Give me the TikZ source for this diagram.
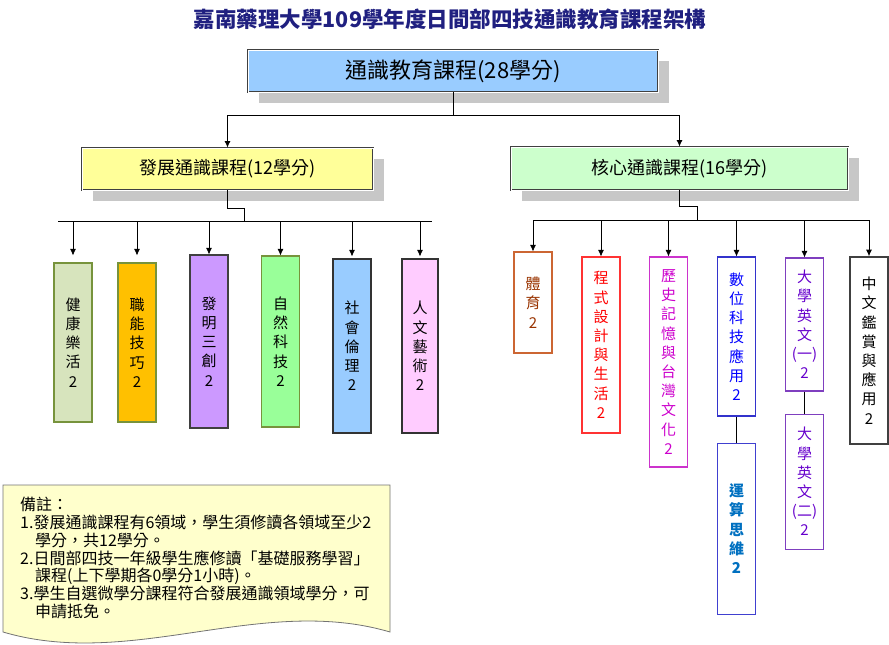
\documentclass[tikz,border=0pt]{standalone}
\usepackage{fontspec}
\setmainfont{Noto Sans CJK TC}
\usetikzlibrary{positioning,shadows,arrows.meta}

\definecolor{titlenavy}{RGB}{32,32,128}
\definecolor{genblue}{RGB}{153,204,255}
\definecolor{devyellow}{RGB}{255,255,153}
\definecolor{coregreen}{RGB}{204,255,204}
\definecolor{memofill}{RGB}{255,255,204}
\definecolor{olive}{RGB}{119,147,60}

\tikzset{
  head/.style={draw=black!75, line width=0.9pt, double=white, double distance=1pt,
    general shadow={fill=black!22, shadow xshift=11pt, shadow yshift=-11pt},
    inner sep=0pt, font=\fontsize{18}{22}\selectfont},
  area/.style={draw, line width=1.1pt, minimum width=38pt, inner sep=0pt,
    align=center, font=\fontsize{15}{19.2}\selectfont},
  link/.style={line width=0.8pt},
  drop/.style={link, -{Latex[length=6.5pt,width=6pt]}},
}

\begin{document}
\begin{tikzpicture}[x=1pt, y=-1pt]
        \useasboundingbox (0,0) rectangle (889,645);
        \node [font=\fontsize{21.5}{24}\selectfont\bfseries, text=titlenavy] (title) at (450,19)
          {嘉南藥理大學109學年度日間部四技通識教育課程架構};

        % top level
        \node [head, fill=genblue, minimum width=410pt, minimum height=42pt,
          font=\fontsize{22}{26}\selectfont] (gen) at (453,71) {通識教育課程(28學分)};
        \node [head, fill=devyellow, minimum width=291pt, minimum height=42pt] (dev) at (227.5,169)
          {發展通識課程(12學分)};
        \node [head, fill=coregreen, minimum width=337pt, minimum height=43pt] (core) at (679.5,168.5)
          {核心通識課程(16學分)};

        % developing areas
        \node [area, minimum height=159pt, fill={rgb,255:red,215;green,228;blue,189}, draw=olive] (hl) at (73,342.5)
          {健\\康\\樂\\活\\2};
        \node [area, minimum height=159pt, fill={rgb,255:red,255;green,192;blue,0}, draw=olive] (sk) at (137,342.5)
          {職\\能\\技\\巧\\2};
        \node [area, minimum height=173pt, fill={rgb,255:red,204;green,153;blue,255}, draw=black!75] (inv) at (209,341.5)
          {發\\明\\三\\創\\2};
        \node [area, minimum height=171pt, fill={rgb,255:red,153;green,255;blue,153}, draw=olive] (nat) at (280.5,341.5)
          {自\\然\\科\\技\\2};
        \node [area, minimum height=174pt, fill=genblue, draw=black!80] (soc) at (352,346)
          {社\\會\\倫\\理\\2};
        \node [area, minimum height=174pt, minimum width=36pt, fill={rgb,255:red,255;green,204;blue,255}, draw=black!80] (hum) at (420,346)
          {人\\文\\藝\\術\\2};

        % core courses
        \node [area, minimum height=101pt, draw={rgb,255:red,204;green,102;blue,51}, text={rgb,255:red,153;green,51;blue,0}] (pe) at (533,302.5)
          {體\\育\\2};
        \node [area, minimum height=176pt, draw={rgb,255:red,255;green,51;blue,51}, text=red] (prog) at (601,345)
          {程\\式\\設\\計\\與\\生\\活\\2};
        \node [area, minimum height=210pt, draw={rgb,255:red,204;green,51;blue,204}, text={rgb,255:red,204;green,0;blue,204}] (hist) at (668.5,362)
          {歷\\史\\記\\憶\\與\\台\\灣\\文\\化\\2};
        \node [area, minimum height=159pt, draw={rgb,255:red,51;green,51;blue,204}, text=blue] (dig) at (736.5,336.5)
          {數\\位\\科\\技\\應\\用\\2};
        \node [area, minimum height=171pt, below=26pt of dig, draw={rgb,255:red,64;green,64;blue,208},
          text={rgb,255:red,0;green,112;blue,192}, font=\fontsize{15}{19.2}\selectfont\bfseries] (ct)
          {運\\算\\思\\維\\2};
        \node [area, minimum height=133pt, draw={rgb,255:red,127;green,63;blue,191}, text={rgb,255:red,102;green,0;blue,204}] (eng1) at (804.5,324.5)
          {大\\學\\英\\文\\(一)\\2};
        \node [area, minimum height=135pt, below=22pt of eng1, draw={rgb,255:red,127;green,63;blue,191}, text={rgb,255:red,102;green,0;blue,204}] (eng2)
          {大\\學\\英\\文\\(二)\\2};
        \node [area, minimum height=187pt, line width=1.6pt, draw=black!75] (chn) at (869,350.5)
          {中\\文\\鑑\\賞\\與\\應\\用\\2};

        % connectors
        \draw [link] (gen.south) -- ++(0,23) coordinate (gb);
        \draw [drop] (gb) -| (dev.north);
        \draw [drop] (gb) -| (core.north);

        \draw [link] (dev.south) -- ++(0,18) -| ++(17,13) coordinate (db);
        \draw [link] (hl.north |- db) ++(-15,0) -- (hum.north |- db) -- ++(12,0);
        \foreach \n/\s in {hl/7,sk/7,inv/0,nat/0,soc/2,hum/2}
          \draw [drop, shorten >=\s pt] (\n.north |- db) -- (\n.north);

        \draw [link] (core.south) -- ++(0,16) -| ++(18,14) coordinate (cb);
        \draw [link] (pe.north |- cb) -- (chn.north |- cb);
        \foreach \n in {pe,prog,hist,dig,eng1,chn}
          \draw [drop] (\n.north |- cb) -- (\n.north);
        \draw [link] (dig) -- (ct);
        \draw [link] (eng1) -- (eng2);

        % note
        \draw [fill=memofill, draw=black!55, line width=0.8pt] (3,485) -- (390,485) -- (390,632)
          .. controls (261,594) and (132,670) .. (3,632) -- cycle;
        \node [anchor=north west, align=left, inner sep=0pt, font=\fontsize{16}{17.8}\selectfont] (memo) at (20,497)
          {備註：\\
           1.發展通識課程有6領域，學生須修讀各領域至少2\\
           \hspace*{15pt}學分，共12學分。\\
           2.日間部四技一年級學生應修讀「基礎服務學習」\\
           \hspace*{15pt}課程(上下學期各0學分1小時)。\\
           3.學生自選微學分課程符合發展通識領域學分，可\\
           \hspace*{15pt}申請抵免。};
      \end{tikzpicture}
\end{document}
